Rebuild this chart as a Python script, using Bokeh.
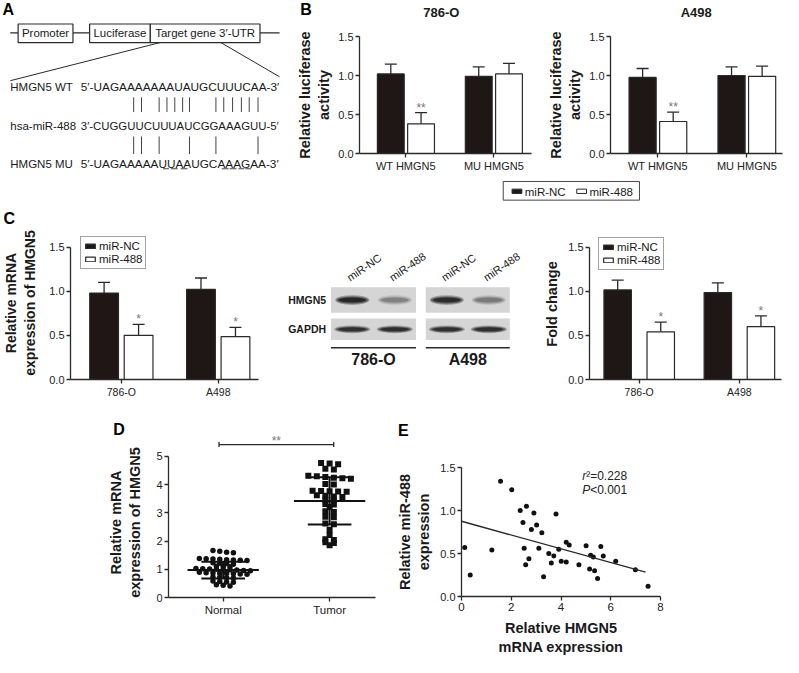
import numpy as np
from bokeh.plotting import figure
from bokeh.models import (Range1d, FixedTicker, Legend, LegendItem,
                          ColumnDataSource, Whisker, TeeHead, NumeralTickFormatter)
from bokeh.layouts import column, row
from bokeh.core.properties import value
from bokeh.embed import file_html
from bokeh.resources import INLINE

# ======================= DATA =======================
construct_parts = ["Promoter", "Luciferase", "Target gene 3′-UTR"]
seq_names = ["HMGN5 WT", "hsa-miR-488", "HMGN5 MU"]
seq_strings = ["5′-UAGAAAAAAAUAUGCUUUCAA-3′",
               "3′-CUGGUUCUUUAUCGGAAAGUU-5′",
               "5′-UAGAAAAAUUAAUGCAAAGAA-3′"]

series_names = ["miR-NC", "miR-488"]

lucif_groups = ["WT HMGN5", "MU HMGN5"]
lucif_786_nc = [1.02, 0.99]
lucif_786_nc_sd = [0.125, 0.12]
lucif_786_mir = [0.38, 1.02]
lucif_786_mir_sd = [0.145, 0.135]
lucif_a498_nc = [0.975, 1.00]
lucif_a498_nc_sd = [0.115, 0.11]
lucif_a498_mir = [0.41, 0.99]
lucif_a498_mir_sd = [0.12, 0.13]
lucif_sig = ["**", ""]
lucif_titles = ["786-O", "A498"]

cell_lines = ["786-O", "A498"]
mrna_nc = [0.98, 1.02]
mrna_nc_sd = [0.12, 0.13]
mrna_mir = [0.50, 0.485]
mrna_mir_sd = [0.125, 0.105]
mrna_sig = ["*", "*"]

prot_nc = [1.015, 0.985]
prot_nc_sd = [0.11, 0.11]
prot_mir = [0.54, 0.60]
prot_mir_sd = [0.11, 0.12]
prot_sig = ["*", "*"]

blot_targets = ["HMGN5", "GAPDH"]
blot_lanes = ["miR-NC", "miR-488", "miR-NC", "miR-488"]
blot_hmgn5 = [1.0, 0.34, 0.95, 0.38]
blot_gapdh = [0.9, 0.92, 0.9, 0.92]

tissue_groups = ["Normal", "Tumor"]
normal_expr = [1.66, 1.64, 1.60, 1.58,
               1.38, 1.37, 1.36, 1.35, 1.34, 1.33, 1.32, 1.31,
               1.23, 1.21, 1.20, 1.18,
               1.11, 1.10, 1.09,
               1.03, 1.02, 1.01, 1.00, 0.99, 0.98, 0.97, 0.96, 0.95,
               0.89, 0.88, 0.87, 0.86, 0.85, 0.84, 0.83, 0.82,
               0.73, 0.72, 0.70, 0.69,
               0.58, 0.57, 0.55, 0.54,
               0.45, 0.43, 0.41]
tumor_expr = [4.76, 4.74, 4.72, 4.56, 4.53,
              4.31, 4.29, 4.27, 4.24, 4.22, 4.20, 4.02, 4.00,
              3.78, 3.77, 3.76, 3.75, 3.74, 3.62, 3.60, 3.58, 3.56,
              3.46, 3.44, 3.31, 3.29, 3.20, 3.05, 3.03, 2.86, 2.84,
              2.62, 2.59, 2.40, 2.21, 2.06, 2.04, 1.96, 1.93, 1.85]
normal_mean, normal_sd = 0.97, 0.30
tumor_mean, tumor_sd = 3.42, 0.84
tissue_sig = "**"

corr_hmgn5 = [0.13, 0.35, 1.22, 1.57, 2.02, 2.36, 2.47, 2.61, 2.52, 2.58,
              2.71, 2.81, 2.91, 3.02, 3.11, 3.23, 3.30, 3.51, 3.61, 3.71,
              3.80, 3.91, 4.01, 4.21, 4.21, 4.33, 4.72, 5.01, 5.15, 5.19,
              5.30, 5.35, 5.47, 5.60, 5.70, 6.20, 6.99, 7.50]
corr_mir488 = [0.57, 0.25, 0.54, 1.34, 1.24, 1.00, 0.86, 1.05, 0.56, 0.37,
               0.44, 0.78, 0.97, 0.83, 0.56, 0.74, 0.23, 0.50, 0.39, 0.47,
               0.96, 0.55, 0.41, 0.40, 0.63, 0.60, 0.37, 0.59, 0.32, 0.48,
               0.46, 0.30, 0.21, 0.58, 0.47, 0.41, 0.31, 0.12]
fit_intercept = 0.875
fit_slope = -0.08
fit_span = [0.0, 7.4]
corr_r2 = "0.228"
corr_p = "<0.001"

# ======================= LAYOUT HELPERS =======================
SX = 783 / 799
SY = 657 / 673
FONT = "Liberation Sans"
INK = "#2a2a2a"
DARK = "#1f1616"
TXT = "#1a1a1a"


def sx(v):
    return int(round(v * SX))


def sy(v):
    return int(round(v * SY))


def solo(p):
    # wrap a plot so that sibling plots do not get their frames aligned
    return column(p)


def bare(rect):
    fx0, fy0, fx1, fy1 = rect
    p = figure(width=sx(fx1) - sx(fx0), height=sy(fy1) - sy(fy0),
               x_range=Range1d(fx0, fx1), y_range=Range1d(fy1, fy0),
               output_backend="svg", toolbar_location=None, title=None,
               x_axis_location=None, y_axis_location=None,
               min_border_left=0, min_border_right=0,
               min_border_top=0, min_border_bottom=0)
    p.outline_line_color = None
    p.grid.visible = False
    return p


def txt(p, xs, ys, texts, size="14px", style="normal", align="center", baseline="middle",
        color=TXT, angle=0.0, x_offset=0):
    p.text(x=xs, y=ys, text=texts, text_font=value(FONT), text_font_size=size,
           text_font_style=style, text_align=align, text_baseline=baseline,
           text_color=color, angle=angle, x_offset=x_offset)


def chart(rect, frame, xr, yr):
    fx0, fy0, fx1, fy1 = rect
    x0, y0, x1, y1 = frame
    p = figure(width=sx(fx1) - sx(fx0), height=sy(fy1) - sy(fy0),
               x_range=Range1d(*xr), y_range=Range1d(*yr),
               output_backend="svg", toolbar_location=None, title=None,
               min_border_left=sx(x0) - sx(fx0), min_border_right=sx(fx1) - sx(x1),
               min_border_top=sy(y0) - sy(fy0), min_border_bottom=sy(fy1) - sy(y1))
    p.outline_line_color = None
    p.grid.visible = False
    for ax in p.axis:
        ax.axis_line_color = INK
        ax.axis_line_width = 1.3
        ax.major_tick_line_color = INK
        ax.major_tick_line_width = 1.3
        ax.major_tick_out = 4
        ax.major_tick_in = 0
        ax.minor_tick_line_color = None
        ax.major_label_text_font = FONT
        ax.major_label_text_font_size = "11px"
        ax.major_label_text_color = "#222222"
        ax.major_label_standoff = 2
        ax.axis_label_text_font = FONT
        ax.axis_label_text_font_style = "bold"
        ax.axis_label_text_font_size = "14.5px"
        ax.axis_label_text_color = TXT
    return p


def bars(p, nc, nc_sd, mir, mir_sd, sig, off, bw, cap=12, star_dy=-5):
    g = np.arange(1, len(nc) + 1, dtype=float)
    s_nc = ColumnDataSource(dict(x=g - off, top=nc, up=np.add(nc, nc_sd)))
    s_mir = ColumnDataSource(dict(x=g + off, top=mir, up=np.add(mir, mir_sd), sig=sig))
    r_nc = p.vbar(x="x", top="top", bottom=0, width=bw, source=s_nc,
                  fill_color=DARK, line_color=INK, line_width=1.2)
    r_mir = p.vbar(x="x", top="top", bottom=0, width=bw, source=s_mir,
                   fill_color="white", line_color=INK, line_width=1.2)
    for s in (s_nc, s_mir):
        p.add_layout(Whisker(source=s, base="x", lower="top", upper="up", lower_head=None,
                             upper_head=TeeHead(size=cap, line_color=INK, line_width=1.3),
                             line_color=INK, line_width=1.3))
    p.text(x="x", y="up", text="sig", source=s_mir, text_align="center",
           text_baseline="middle", y_offset=star_dy, text_font=value(FONT),
           text_font_size="12px", text_color="#777777")
    return r_nc, r_mir


def y_ticks(p, ticks, fmt="0.0", bounds=None):
    p.yaxis.ticker = FixedTicker(ticks=ticks)
    p.yaxis.formatter = NumeralTickFormatter(format=fmt)
    if bounds:
        p.yaxis.bounds = bounds


def y_title(p, text, standoff, size="14.5px"):
    p.yaxis.axis_label = text
    p.yaxis.axis_label_standoff = standoff
    p.yaxis.axis_label_text_font_size = size


def x_cats(p, names, size="11px"):
    p.xaxis.ticker = FixedTicker(ticks=list(range(1, len(names) + 1)))
    p.xaxis.major_label_overrides = {i + 1: n for i, n in enumerate(names)}
    p.xaxis.major_label_text_font_size = size


def add_legend(p, r_nc, r_mir, margin=10):
    leg = Legend(items=[LegendItem(label=series_names[0], renderers=[r_nc]),
                        LegendItem(label=series_names[1], renderers=[r_mir])],
                 orientation="vertical", location="top_left", margin=margin,
                 padding=3, spacing=1,
                 glyph_width=12, glyph_height=6, label_standoff=3,
                 label_height=12, label_width=10,
                 label_text_font=FONT, label_text_font_size="11.5px",
                 label_text_color=TXT, border_line_color="#444444",
                 border_line_width=1, background_fill_color="white",
                 background_fill_alpha=1.0)
    p.add_layout(leg)
    return leg


# ======================= PANEL A =======================
pa = bare((0, 0, 288, 184))
txt(pa, [8], [9], ["A"], size="16px", style="bold", color="black")
box_edges = [(18, 74), (91, 153), (153, 265)]
pa.segment(x0=[10, 74, 265], y0=[33, 33, 33], x1=[18, 91, 285], y1=[33, 33, 33],
           line_color=INK, line_width=1.2)
pa.quad(left=[a for a, b in box_edges], right=[b for a, b in box_edges],
        top=[24] * 3, bottom=[43] * 3, fill_color="white", line_color=INK, line_width=1.2)
txt(pa, [(a + b) / 2 for a, b in box_edges], [33.5] * 3, construct_parts, size="11.5px")
pa.segment(x0=[163, 225], y0=[43, 43], x1=[10, 285], y1=[82, 78], line_color=INK, line_width=1.0)
row_y = [88, 128, 167]
txt(pa, [10] * 3, row_y, seq_names, size="11.5px", align="left")
for yy, ss, fs in zip(row_y, seq_strings, ["11.8px", "11.4px", "11.8px"]):
    txt(pa, [82], [yy], [ss], size=fs, align="left")
pair_top = [136, 144, 162, 170, 178, 186, 193, 220, 228, 237, 246, 254, 263]
pair_bot = [136, 144, 162, 193, 220, 263]
pa.segment(x0=pair_top, y0=[99] * len(pair_top), x1=pair_top, y1=[114] * len(pair_top),
           line_color="#444444", line_width=1.0)
pa.segment(x0=pair_bot, y0=[139] * len(pair_bot), x1=pair_bot, y1=[157] * len(pair_bot),
           line_color="#444444", line_width=1.0)
ul = [(166, 172), (174, 181), (184, 191), (226, 233), (234, 241), (243, 249), (250, 256)]
pa.segment(x0=[a for a, b in ul], y0=[172] * len(ul), x1=[b for a, b in ul], y1=[172] * len(ul),
           line_color="#444444", line_width=1.0)

# ======================= PANEL B =======================
topB = bare((288, 0, 799, 24))
txt(topB, [312], [9], ["B"], size="16px", style="bold", color="black")
txt(topB, [450, 710], [12, 12], lucif_titles, size="13px", style="bold")

pb1 = chart((288, 24, 546, 184), (366, 37, 542, 157), (0.4722, 2.4278), (0, 1.5))
pb2 = chart((546, 24, 799, 184), (622, 37, 798, 157), (0.467, 2.401), (0, 1.5))
for p, nc, ncs, mi, mis in [
        (pb1, lucif_786_nc, lucif_786_nc_sd, lucif_786_mir, lucif_786_mir_sd),
        (pb2, lucif_a498_nc, lucif_a498_nc_sd, lucif_a498_mir, lucif_a498_mir_sd)]:
    bars(p, nc, ncs, mi, mis, lucif_sig, 0.172, 0.305)
    y_ticks(p, [0, 0.5, 1.0, 1.5], bounds=(0, 1.5))
    x_cats(p, lucif_groups)
    y_title(p, "Relative luciferase\nactivity", 3)

# legend strip shared by both B charts (drawn as a key)
strip = bare((0, 184, 799, 208))
strip.quad(left=[513], right=[652], top=[185], bottom=[204.5], fill_color="white",
           line_color="#444444", line_width=1)
key_x = [522, 588]
strip.quad(left=key_x, right=[k + 10 for k in key_x], top=[193] * 2, bottom=[197.5] * 2,
           fill_color=[DARK, "white"], line_color=INK, line_width=1)
txt(strip, [k + 13 for k in key_x], [195.5] * 2, series_names, size="11.5px", align="left")

# ======================= PANEL C =======================
topC = bare((0, 208, 272, 231))
txt(topC, [9], [223], ["C"], size="16px", style="bold", color="black")

pc1 = chart((0, 231, 272, 410), (67, 232, 263, 388), (0.4752, 2.4158), (0, 1.7333))
r1, r2 = bars(pc1, mrna_nc, mrna_nc_sd, mrna_mir, mrna_mir_sd, mrna_sig, 0.178, 0.297)
y_ticks(pc1, [0, 0.5, 1.0, 1.5], bounds=(0, 1.5))
x_cats(pc1, cell_lines, size="10.5px")
add_legend(pc1, r1, r2, margin=10)
y_title(pc1, "Relative mRNA\nexpression of HMGN5", 8, size="14px")

pc2 = chart((533, 208, 799, 410), (601, 234, 797, 388), (0.5037, 2.4205), (0, 1.7111))
r1, r2 = bars(pc2, prot_nc, prot_nc_sd, prot_mir, prot_mir_sd, prot_sig, 0.215, 0.274)
y_ticks(pc2, [0, 0.5, 1.0, 1.5], bounds=(0, 1.5))
x_cats(pc2, cell_lines, size="10.5px")
add_legend(pc2, r1, r2, margin=9)
y_title(pc2, "Fold change", 5)

# western blot
pw = bare((272, 208, 533, 410))
panels = [(337, 424), (434, 520)]
rows_y = [(294, 320), (326, 348)]
pw.quad(left=[a for a, b in panels for r in rows_y], right=[b for a, b in panels for r in rows_y],
        top=[r[0] for pnl in panels for r in rows_y], bottom=[r[1] for pnl in panels for r in rows_y],
        fill_color="#d5d5d5", line_color=None)
lane_x = [a + (b - a) * (k + 0.5) / 2 for a, b in panels for k in range(2)]
for inten_list, yc, bw_, bh_ in [(blot_hmgn5, 307, 35, 10), (blot_gapdh, 337, 37, 8)]:
    for wf, hf, af in [(1.0, 1.0, 0.3), (0.92, 0.75, 0.45), (0.8, 0.5, 0.7)]:
        pw.ellipse(x=lane_x, y=[yc] * 4, width=[bw_ * wf] * 4, height=[bh_ * hf] * 4,
                   fill_color="#111111", fill_alpha=[af * i for i in inten_list], line_color=None)
txt(pw, [332, 332], [307, 337], blot_targets, size="10.5px", style="bold", align="right")
txt(pw, [x - 1 for x in lane_x], [290] * 4, blot_lanes, size="11px", align="left",
    baseline="bottom", angle=0.6)
pw.segment(x0=[a for a, b in panels], y0=[356, 356], x1=[b for a, b in panels], y1=[356, 356],
           line_color=INK, line_width=1.5)
txt(pw, [(a + b) / 2 for a, b in panels], [368, 368], cell_lines, size="16px", style="bold")

# ======================= PANEL D =======================
D_FRAME = (171, 458, 383, 612)
D_XR = (0.4862, 2.4312)
D_YR = (0, (612 - 458) / 29.0)


def d_px(c):
    return D_FRAME[0] + (c - D_XR[0]) / (D_XR[1] - D_XR[0]) * (D_FRAME[2] - D_FRAME[0])


topD = bare((0, 410, 400, 458))
txt(topD, [121], [440], ["D"], size="16px", style="bold", color="black")
sig_l, sig_r = d_px(0.963), d_px(2.037)
topD.segment(x0=[sig_l, sig_l, sig_r], y0=[455, 452.5, 452.5],
             x1=[sig_r, sig_l, sig_r], y1=[455, 457.5, 457.5], line_color=INK, line_width=1.3)
txt(topD, [(sig_l + sig_r) / 2], [451], [tissue_sig], size="12px", color="#777777")

pd = chart((0, 458, 400, 673), D_FRAME, D_XR, D_YR)
y_ticks(pd, [0, 1, 2, 3, 4, 5], fmt="0", bounds=(0, 5))
x_cats(pd, tissue_groups, size="11.5px")
y_title(pd, "Relative mRNA\nexpression of HMGN5", 10)


def swarm(vals, center, gap, d):
    v = np.sort(np.asarray(vals, dtype=float))[::-1]
    clusters, cur = [], [0]
    for i in range(1, len(v)):
        if v[i - 1] - v[i] > gap:
            clusters.append(cur)
            cur = [i]
        else:
            cur.append(i)
    clusters.append(cur)
    xs = np.zeros(len(v))
    for c in clusters:
        n = len(c)
        for k, idx in enumerate(c):
            xs[idx] = center + (k - (n - 1) / 2) * d
    return xs, v


nx, nv = swarm(normal_expr, 1, 0.045, 0.064)
tx, tv = swarm(tumor_expr, 2, 0.045, 0.08)
pd.scatter(nx, nv, size=5.5, marker="circle", fill_color="#111111", line_color=None)
pd.scatter(tx, tv, size=6, marker="square", fill_color="#111111", line_color=None)
for c, m, s in [(1, normal_mean, normal_sd), (2, tumor_mean, tumor_sd)]:
    pd.segment(x0=[c - 0.335, c - 0.205, c - 0.205, c], y0=[m, m - s, m + s, m - s],
               x1=[c + 0.335, c + 0.205, c + 0.205, c], y1=[m, m - s, m + s, m + s],
               line_color="#111111", line_width=2)

# ======================= PANEL E =======================
topE = bare((400, 410, 799, 470))
txt(topE, [411], [441], ["E"], size="16px", style="bold", color="black")

pe = chart((400, 470, 799, 673), (470, 478, 673, 612), (0, 8), (0, 1.5))
y_ticks(pe, [0, 0.5, 1.0, 1.5])
pe.xaxis.ticker = FixedTicker(ticks=[0, 2, 4, 6, 8])
pe.xaxis.major_label_text_font_size = "11.5px"
y_title(pe, "Relative miR-488\nexpression", 5)
pe.xaxis.axis_label = "Relative HMGN5\nmRNA expression"
pe.xaxis.axis_label_standoff = 6
pe.scatter(corr_hmgn5, corr_mir488, size=5, marker="circle", fill_color="#111111", line_color=None)
fx = np.array(fit_span)
pe.line(fx, fit_intercept + fit_slope * fx, line_color=INK, line_width=1.4)
ann_x = 4.85
txt(pe, [ann_x, ann_x], [1.396, 1.24], ["r", "P"], size="12px", style="italic",
    align="left", color="#222222")
txt(pe, [ann_x], [1.396], ["²=" + corr_r2], size="12px", align="left", color="#222222", x_offset=4)
txt(pe, [ann_x], [1.24], [corr_p], size="12px", align="left", color="#222222", x_offset=8)

layout = column(row(solo(pa), column(solo(topB), row(solo(pb1), solo(pb2)))),
                solo(strip),
                row(column(solo(topC), solo(pc1)), solo(pw), solo(pc2)),
                row(column(solo(topD), solo(pd)), column(solo(topE), solo(pe))))
open("out.html", "w").write(file_html(layout, INLINE))
